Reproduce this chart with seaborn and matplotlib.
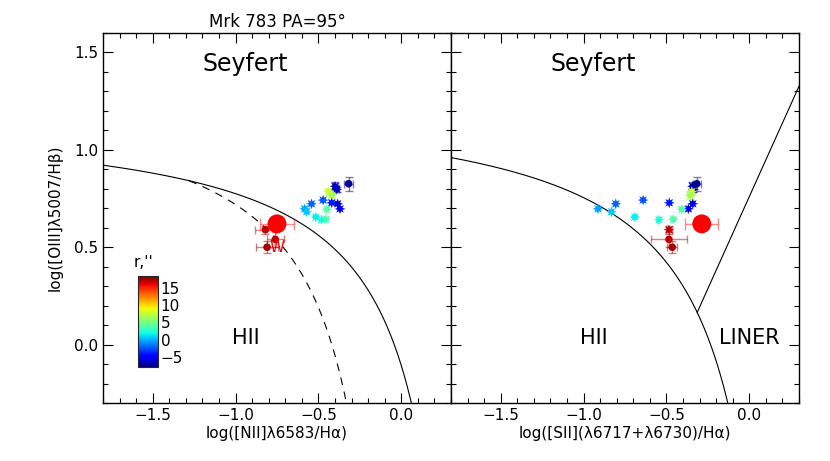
import numpy as np
import pandas as pd
import matplotlib
matplotlib.use("Agg")
import matplotlib.pyplot as plt
import seaborn as sns
from matplotlib.ticker import MultipleLocator

# ---- data ----
oiii_hb = [0.59, 0.54, 0.50, 0.826, 0.813, 0.797, 0.786, 0.767, 0.742, 0.728,
           0.723, 0.697, 0.695, 0.723, 0.697, 0.682, 0.655, 0.641, 0.643]
nii_ha = [-0.82, -0.76, -0.81, -0.318, -0.40, -0.389, -0.441, -0.42, -0.472, -0.42,
          -0.384, -0.37, -0.449, -0.542, -0.583, -0.571, -0.516, -0.481, -0.455]
sii_ha = [-0.485, -0.485, -0.465, -0.317, -0.343, -0.337, -0.347, -0.358, -0.641, -0.483,
          -0.341, -0.368, -0.408, -0.806, -0.913, -0.832, -0.691, -0.545, -0.459]
radius = [17.0, 17.0, 17.5, -7.5, -7.0, -6.5, 8.0, 6.5, -2.5, -4.0,
          -6.0, -5.5, 4.0, -2.0, -0.5, 0.5, 1.5, 2.0, 3.5]
n2_xerr = [0.065, 0.05, 0.065, 0.025, 0.015, 0.012, 0.015, 0.015, 0.0, 0.0,
           0.0, 0.0, 0.0, 0.0, 0.0, 0.0, 0.0, 0.0, 0.0]
s2_xerr = [0.02, 0.11, 0.03, 0.025, 0.015, 0.012, 0.015, 0.015, 0.0, 0.0,
           0.0, 0.0, 0.0, 0.0, 0.0, 0.0, 0.0, 0.0, 0.0]
y_err = [0.02, 0.04, 0.03, 0.035, 0.02, 0.012, 0.02, 0.02, 0.0, 0.0,
         0.0, 0.0, 0.0, 0.0, 0.0, 0.0, 0.0, 0.0, 0.0]

# nucleus (big red point)
nuc_y = 0.62
nuc_n2 = -0.75
nuc_s2 = -0.287
nuc_xerr = 0.1

r_min, r_max = -8.0, 18.5
cbar_ticks = [-5, 0, 5, 10, 15]

df = pd.DataFrame({"y": oiii_hb, "n2": nii_ha, "s2": sii_ha, "r": radius,
                   "n2_xerr": n2_xerr, "s2_xerr": s2_xerr, "yerr": y_err})

sns.set_theme(style="ticks")
plt.rcParams["font.family"] = ["DejaVu Sans"]
plt.rcParams["mathtext.fontset"] = "dejavusans"
plt.rcParams["text.color"] = "black"
plt.rcParams["axes.labelcolor"] = "black"
plt.rcParams["xtick.color"] = "black"
plt.rcParams["ytick.color"] = "black"
plt.rcParams["xtick.labelcolor"] = "black"
plt.rcParams["ytick.labelcolor"] = "black"

cmap = plt.get_cmap("jet")
norm = matplotlib.colors.Normalize(r_min, r_max)

fig = plt.figure(figsize=(8.3, 4.61), dpi=100)
ax1 = fig.add_axes([0.1241, 0.1258, 0.4193, 0.8026])
ax2 = fig.add_axes([0.5434, 0.1258, 0.4193, 0.8026])


def style_axis(ax):
    ax.set_xlim(-1.8, 0.3)
    ax.set_ylim(-0.3, 1.6)
    ax.xaxis.set_major_locator(MultipleLocator(0.5))
    ax.xaxis.set_minor_locator(MultipleLocator(0.1))
    ax.yaxis.set_major_locator(MultipleLocator(0.5))
    ax.yaxis.set_minor_locator(MultipleLocator(0.1))
    ax.tick_params(which="both", direction="in", top=True, right=True,
                   color="black", labelcolor="black", labelsize=11, width=0.8)
    ax.tick_params(which="major", length=7)
    ax.tick_params(which="minor", length=3.5)
    for sp in ax.spines.values():
        sp.set_color("black")
        sp.set_linewidth(1.0)
    ax.set_facecolor("white")


def draw_points(ax, xcol, xerrcol, nx):
    for _, row in df.iterrows():
        if row[xerrcol] > 0 or row["yerr"] > 0:
            c = cmap(norm(row["r"]))
            ax.errorbar(row[xcol], row["y"], xerr=row[xerrcol], yerr=row["yerr"],
                        fmt="none", ecolor=c, alpha=0.5, elinewidth=1.0,
                        capsize=3, capthick=1.0, zorder=2)
    big = df[(df[xerrcol] >= 0.025)]
    small = df[(df[xerrcol] < 0.025)]
    sns.scatterplot(data=small, x=xcol, y="y", hue="r", palette=cmap,
                    hue_norm=norm, marker=(8, 1, 0), s=60,
                    edgecolor="none", legend=False, ax=ax, zorder=3)
    sns.scatterplot(data=big, x=xcol, y="y", hue="r", palette=cmap,
                    hue_norm=norm, marker="o", s=30,
                    edgecolor="none", legend=False, ax=ax, zorder=3)
    ax.errorbar(nx, nuc_y, xerr=nuc_xerr, fmt="none", ecolor="red", alpha=0.45,
                elinewidth=1.0, capsize=4, zorder=2)
    ax.scatter([nx], [nuc_y], s=185, color="red", edgecolor="none", zorder=4)


# demarcation lines
x_ke = np.linspace(-1.8, 0.061, 300)
ax1.plot(x_ke, 0.61 / (x_ke - 0.47) + 1.19, color="black", lw=0.8)
x_ka = np.linspace(-1.28, -0.33, 200)
ax1.plot(x_ka, 0.61 / (x_ka - 0.05) + 1.3, color="black", lw=0.8,
         dashes=(7, 6))
x_ks = np.linspace(-1.8, -0.125, 300)
ax2.plot(x_ks, 0.72 / (x_ks - 0.32) + 1.30, color="black", lw=0.8)
x_li = np.linspace(-0.315, 0.3, 50)
ax2.plot(x_li, 1.89 * x_li + 0.76, color="black", lw=0.8)

draw_points(ax1, "n2", "n2_xerr", nuc_n2)
draw_points(ax2, "s2", "s2_xerr", nuc_s2)
ax1.text(-0.75, 0.50, "W", color="red", fontsize=11, ha="center", va="center",
         zorder=5)

for ax in (ax1, ax2):
    style_axis(ax)
    ax.text(-0.94, 1.44, "Seyfert", fontsize=17, ha="center", va="center")
    ax.text(-0.94, 0.036, "HII", fontsize=15, ha="center", va="center")
ax2.text(0.0, 0.036, "LINER", fontsize=15, ha="center", va="center")
ax2.set_yticklabels([])

ax1.set_xlabel("log([NII]λ6583/Hα)", fontsize=11, labelpad=2)
ax2.set_xlabel("log([SII](λ6717+λ6730)/Hα)", fontsize=11, labelpad=2)
ax1.set_ylabel("log([OIII]λ5007/Hβ)", fontsize=11, labelpad=8)
ax2.set_ylabel("")
ax1.set_title("Mrk 783 PA=95°", fontsize=12, pad=4)

# colorbar
cax = fig.add_axes([0.1663, 0.2039, 0.0241, 0.1974])
sm = matplotlib.cm.ScalarMappable(norm=norm, cmap=cmap)
cb = fig.colorbar(sm, cax=cax, ticks=cbar_ticks)
cb.outline.set_linewidth(0.8)
cax.tick_params(direction="in", length=8, labelsize=11, width=0.8, pad=2,
                color="black", labelcolor="black")
cax.set_yticklabels(["\u22125", "0", "5", "10", "15"])
fig.text(0.173, 0.43, "r,''", fontsize=11, ha="center", va="center")

fig.savefig("out.png", dpi=100)
